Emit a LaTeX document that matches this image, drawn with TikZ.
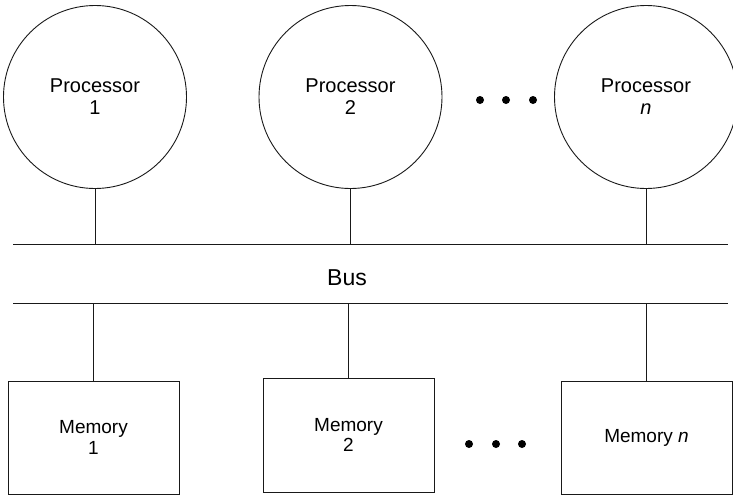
\documentclass[tikz,border=0pt]{standalone}
\usepackage{fontspec}
\setmainfont{Liberation Sans}
\usepackage{tikz}
\definecolor{linecol}{gray}{0.10}

\tikzset{
	proc/.style={draw=linecol, circle, minimum size=183pt, inner sep=0pt, align=center, font=\fontsize{20}{22}\selectfont},
	mem/.style={draw=linecol, rectangle, minimum width=171pt, inner sep=0pt, align=center, font=\fontsize{19}{20.5}\selectfont},
	dot/.style={fill=black, circle, minimum size=8pt, inner sep=0pt},
	wire/.style={draw=linecol, line width=0.9pt}
}

\begin{document}
\begin{tikzpicture}[x=1pt, y=-1pt, line width=0.9pt]
		\useasboundingbox (0,0) rectangle (733,496);

		\node[proc] (proc1) at (95,97) {Processor\\1};
		\node[proc] (proc2) at (350.5,97) {Processor\\2};
		\node[proc] (procn) at (646,97) {Processor\\\textit{n}};

		\node[dot] (pdot1) at (480,100) {};
		\node[dot] (pdot2) at (506,100) {};
		\node[dot] (pdot3) at (533,100) {};

		\coordinate (busAL) at (13,244);
		\coordinate (busAR) at (728,244);
		\coordinate (busBL) at (13,303);
		\coordinate (busBR) at (728,303);
		\draw[wire] (busAL) -- (busAR);
		\draw[wire] (busBL) -- (busBR);
		\node[font=\fontsize{23}{26}\selectfont] (bus) at (347,278) {Bus};

		\node[mem, minimum height=113pt] (mem1) at (93.5,437.5) {Memory\\1};
		\node[mem, minimum height=114pt] (mem2) at (348.5,435) {Memory\\2};
		\node[mem, minimum height=113pt] (memn) at (646.5,437.5) {Memory \textit{n}};

		\node[dot] (mdot1) at (469,444) {};
		\node[dot] (mdot2) at (496,444) {};
		\node[dot] (mdot3) at (522,444) {};

		\draw[wire] (proc1.south) -- (proc1.south |- busAL);
		\draw[wire] (proc2.south) -- (proc2.south |- busAL);
		\draw[wire] (procn.south) -- (procn.south |- busAL);

		\draw[wire] (mem1.north) -- (mem1.north |- busBL);
		\draw[wire] (mem2.north) -- (mem2.north |- busBL);
		\draw[wire] (memn.north) -- (memn.north |- busBL);
	\end{tikzpicture}
\end{document}
